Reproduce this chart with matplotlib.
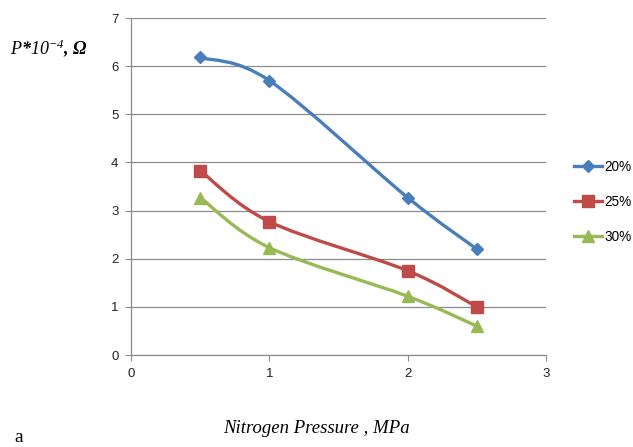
import matplotlib
matplotlib.use("Agg")
import matplotlib.pyplot as plt
import numpy as np
from matplotlib.path import Path
from matplotlib.patches import PathPatch

# data
pressure = [0.5, 1.0, 2.0, 2.5]
r20 = [6.18, 5.70, 3.27, 2.20]
r25 = [3.83, 2.77, 1.75, 1.00]
r30 = [3.27, 2.23, 1.22, 0.60]
series_names = ["20%", "25%", "30%"]
colors = ["#4A7EBB", "#BE4B48", "#98B954"]
markers = ["D", "s", "^"]
msizes = [6.5, 8, 8]

plt.rcParams['mathtext.fontset'] = 'custom'
plt.rcParams['mathtext.it'] = 'Liberation Serif:italic'
plt.rcParams['mathtext.rm'] = 'Liberation Serif:italic'

fig = plt.figure(figsize=(6.33, 4.47), dpi=100)
ax = fig.add_axes([0.207, 0.2058, 0.6556, 0.7539])


# smoothed line like excel (catmull-rom as bezier segments)
def smooth_path(xs, ys):
    pts = np.column_stack([xs, ys])
    n = len(pts)
    verts = [pts[0]]
    codes = [Path.MOVETO]
    for i in range(n - 1):
        p0 = pts[max(i - 1, 0)]
        p1 = pts[i]
        p2 = pts[i + 1]
        p3 = pts[min(i + 2, n - 1)]
        c1 = p1 + (p2 - p0) / 6.0
        c2 = p2 - (p3 - p1) / 6.0
        verts += [c1, c2, p2]
        codes += [Path.CURVE4] * 3
    return Path(verts, codes)


for ys, name, c, m, ms in zip([r20, r25, r30], series_names, colors, markers, msizes):
    patch = PathPatch(smooth_path(pressure, ys), facecolor='none', edgecolor=c,
                      lw=2.4, zorder=3, capstyle='round', joinstyle='round')
    ax.add_patch(patch)
    ax.plot(pressure, ys, ls='none', marker=m, ms=ms, color=c, zorder=4)
    # legend proxy
    ax.plot([], [], color=c, lw=2.4, marker=m, ms=ms, label=name)

ax.set_xlim(0, 3)
ax.set_ylim(0, 7)
ax.set_xticks([0, 1, 2, 3])
ax.set_yticks(range(8))
ax.yaxis.grid(True, color='#8c8c8c', lw=0.9)
ax.set_axisbelow(True)
for s in ['top', 'right']:
    ax.spines[s].set_visible(False)
for s in ['left', 'bottom']:
    ax.spines[s].set_color('#8c8c8c')
    ax.spines[s].set_linewidth(0.9)
ax.tick_params(axis='both', direction='out', length=4, color='#8c8c8c',
               labelsize=9.5, labelcolor='#222222', pad=5)
for lab in ax.get_xticklabels() + ax.get_yticklabels():
    lab.set_fontfamily('Liberation Sans')

leg = ax.legend(loc='center left', bbox_to_anchor=(1.037, 0.455), frameon=False,
                prop={'family': 'Liberation Sans', 'size': 9.8},
                handlelength=2.1, labelspacing=1.55, handletextpad=0.15)

fig.text(0.016, 0.893, r'$P$*$10^{-4}$, Ω', fontsize=13, fontfamily='Liberation Serif',
         fontstyle='italic', fontweight='bold', va='center', ha='left')
fig.text(0.5, 0.022, 'Nitrogen Pressure , MPa', fontsize=13.5, fontfamily='Liberation Serif',
         fontstyle='italic', ha='center', va='bottom')
fig.text(0.022, 0.002, 'a', fontsize=14, fontfamily='Liberation Serif', ha='left', va='bottom')

fig.savefig('out.png', dpi=100)
